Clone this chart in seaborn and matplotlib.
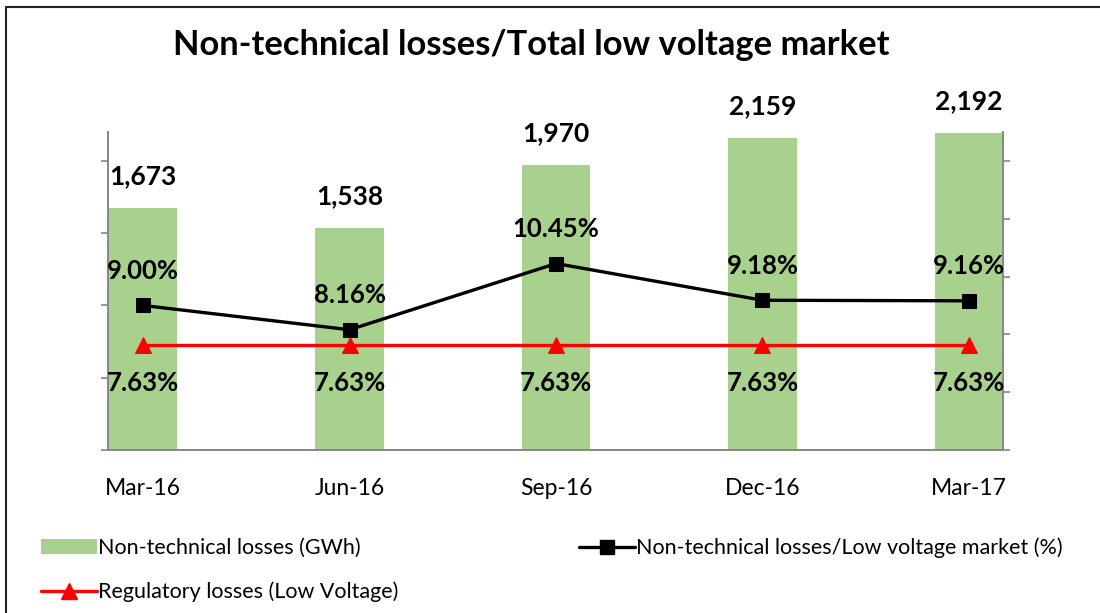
import numpy as np
import matplotlib
matplotlib.use("Agg")
import matplotlib.pyplot as plt
from matplotlib.lines import Line2D
from matplotlib.patches import Patch
import seaborn as sns

# Quarterly data
quarters = ["Mar-16", "Jun-16", "Sep-16", "Dec-16", "Mar-17"]
nontech_gwh = [1673, 1538, 1970, 2159, 2192]
nontech_pct = [9.00, 8.16, 10.45, 9.18, 9.16]
regulatory_pct = [7.63, 7.63, 7.63, 7.63, 7.63]

bar_color = "#A9D18E"
axis_grey = "#868686"

sns.set_theme(style="white")
plt.rcParams["font.family"] = ["Lato", "DejaVu Sans"]
plt.rcParams["text.color"] = "black"

fig = plt.figure(figsize=(11, 6.13), dpi=100)
ax = fig.add_axes([108 / 1100, 1 - 450 / 613, (1003 - 108) / 1100, (450 - 132) / 613])

sns.barplot(x=quarters, y=nontech_gwh, ax=ax, color=bar_color, width=0.33,
            saturation=1, edgecolor="none")
x = np.arange(len(quarters))
ax.set_xlim(-0.17, 4.165)
ax.set_ylim(0, 2200)
ax.set_yticks([0, 500, 1000, 1500, 2000])
ax.set_yticklabels([])
ax.set_xlabel("")
ax.set_ylabel("")
ax.set_xticks(x)
ax.set_xticklabels(quarters, fontsize=16.5)
ax.tick_params(axis="x", length=0, pad=20, colors="black")
ax.set_xticks(x - 0.17, minor=True)
ax.tick_params(axis="x", which="minor", length=6, color=axis_grey, width=1.2, direction="out")
ax.tick_params(axis="y", length=5, color=axis_grey, width=1.2, direction="out", left=True)
for side in ["left", "bottom", "right"]:
    ax.spines[side].set_color(axis_grey)
    ax.spines[side].set_linewidth(1.2)
ax.spines["top"].set_visible(False)

for xi, v in zip(x, nontech_gwh):
    ax.annotate(f"{v:,}", (xi, v), xytext=(0, 23), textcoords="offset points",
                ha="center", va="center", fontsize=19, fontweight="bold")

ax2 = ax.twinx()
sns.lineplot(x=x, y=regulatory_pct, ax=ax2, color="#FF0000", linewidth=2.4,
             marker="^", markersize=11, markeredgecolor="#FF0000", markerfacecolor="#FF0000")
sns.lineplot(x=x, y=nontech_pct, ax=ax2, color="black", linewidth=2.4,
             marker="s", markersize=10, markeredgecolor="black", markerfacecolor="black")
ax2.set_ylim(4, 15)
ax2.set_yticks([4, 6, 8, 10, 12, 14])
ax2.set_yticklabels([])
ax2.set_xlim(-0.17, 4.165)
ax2.tick_params(axis="y", length=5, color=axis_grey, width=1.2, direction="out", right=True)
for side in ["left", "bottom", "right"]:
    ax2.spines[side].set_color(axis_grey)
    ax2.spines[side].set_linewidth(1.2)
ax2.spines["top"].set_visible(False)

for xi, v in zip(x, nontech_pct):
    ax2.annotate(f"{v:.2f}%", (xi, v), xytext=(0, 25), textcoords="offset points",
                 ha="center", va="center", fontsize=18.5, fontweight="bold")
for xi, v in zip(x, regulatory_pct):
    ax2.annotate(f"{v:.2f}%", (xi, v), xytext=(0, -27), textcoords="offset points",
                 ha="center", va="center", fontsize=18.5, fontweight="bold")

fig.text(531 / 1100, 1 - 45 / 613, "Non-technical losses/Total low voltage market",
         ha="center", va="center", fontsize=24.8, fontweight="bold")

handles = [
    Patch(facecolor=bar_color, edgecolor="none"),
    Line2D([], [], color="#FF0000", lw=2.4, marker="^", markersize=11),
    Line2D([], [], color="black", lw=2.4, marker="s", markersize=10),
]
labels = ["Non-technical losses (GWh)", "Regulatory losses (Low Voltage)",
          "Non-technical losses/Low voltage market (%)"]
fig.legend(handles, labels, ncol=2, loc="upper left",
           bbox_to_anchor=(32 / 1100, 1 - 529 / 613), frameon=False,
           fontsize=15.5, handlelength=2.6, handleheight=0.7, handletextpad=0.06,
           columnspacing=8.4, labelspacing=1.1, borderaxespad=0)

# chart frame
fig.add_artist(Line2D([6 / 1100, 6 / 1100], [0, 1 - 7 / 613], color="#222222", lw=1.5))
fig.add_artist(Line2D([6 / 1100, 1], [1 - 7 / 613, 1 - 7 / 613], color="#222222", lw=1.5))

fig.savefig("out.png", dpi=100)
